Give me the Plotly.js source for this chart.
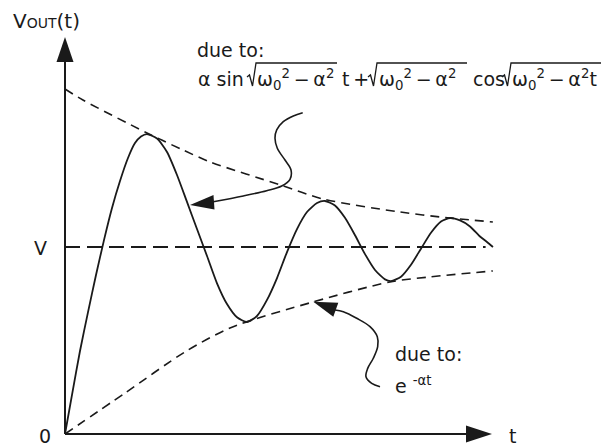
<!DOCTYPE html>
<html>
<head>
<meta charset="utf-8">
<script src="https://cdn.plot.ly/plotly-3.0.1.min.js"></script>
<style>
  html, body { margin: 0; padding: 0; background: #fff; }
  #chart { width: 603px; height: 446px; }
</style>
</head>
<body>
<div id="chart"></div>
<script>
// Underdamped step response of a second-order circuit, normalised so the final value V = 1.
const vFinal = 1;
const tEnd = 10;

// Oscillating output voltage
const t = [0, 0.164, 0.351, 0.539, 0.726, 0.913, 1.101, 1.288, 1.475, 1.639, 1.780, 1.920,
           2.155, 2.389, 2.623, 2.857, 3.091, 3.326, 3.560, 3.794, 4.028, 4.262,
           4.496, 4.731, 4.965, 5.199, 5.433, 5.667, 5.902, 6.089,
           6.323, 6.557, 6.792, 7.026, 7.260, 7.494, 7.635,
           7.869, 8.103, 8.337, 8.571, 8.806, 9.016,
           9.251, 9.485, 9.719, 9.883, 10.023];
const vOut = [0, 0.209, 0.444, 0.652, 0.850, 1.037, 1.209, 1.353, 1.476, 1.556, 1.591, 1.604,
              1.580, 1.508, 1.385, 1.241, 1.096, 0.952, 0.806, 0.695, 0.624, 0.599,
              0.631, 0.717, 0.834, 0.973, 1.096, 1.187, 1.235, 1.246,
              1.222, 1.156, 1.063, 0.962, 0.877, 0.827, 0.818,
              0.841, 0.905, 0.991, 1.076, 1.136, 1.155,
              1.142, 1.110, 1.056, 1.027, 1.000];

// Decaying envelopes (upper and lower)
const envTopT = [0, 0.42, 1.92, 2.76, 3.40, 5.04, 6.04, 7.85, 9.02, 10.02];
const envTop  = [1.845, 1.786, 1.610, 1.519, 1.455, 1.332, 1.257, 1.187, 1.155, 1.134];
const envBotT = [0, 1.405, 2.810, 3.864, 5.808, 7.611, 8.548, 10.02];
const envBot  = [0, 0.219, 0.439, 0.567, 0.706, 0.813, 0.840, 0.872];

// Callout connectors, from each label to the curve it describes
const calloutTopT = [5.567, 5.347, 5.112, 4.958, 4.918, 4.972, 5.152, 5.293, 5.269, 5.075, 4.724, 4.176, 3.473];
const calloutTopV = [1.718, 1.701, 1.670, 1.626, 1.581, 1.528, 1.465, 1.412, 1.362, 1.326, 1.301, 1.273, 1.242];
const calloutBotT = [6.323, 6.518, 6.831, 7.143, 7.314, 7.323, 7.220, 7.089, 7.049, 7.183, 7.377];
const calloutBotV = [0.663, 0.654, 0.619, 0.574, 0.520, 0.467, 0.405, 0.351, 0.306, 0.271, 0.253];

// Pixel geometry of the drawing
const W = 603, H = 446;
const OX = 65, OY = 434;         // origin
const PX_T = 42.7, PX_V = 187;   // pixels per unit
const X = px => (px - OX) / PX_T;
const Y = py => (OY - py) / PX_V;

const ink = '#1a1a1a';
const font = { family: '"DejaVu Sans", Arial, sans-serif', size: 19, color: ink };

const traces = [
  { x: [0, tEnd * 0.985], y: [vFinal, vFinal], mode: 'lines',
    line: { color: ink, width: 1.8, dash: '15px,7px' } },
  { x: envTopT, y: envTop, mode: 'lines', line: { color: ink, width: 1.6, dash: '9px,6px', shape: 'spline', smoothing: 0.8 } },
  { x: envBotT, y: envBot, mode: 'lines', line: { color: ink, width: 1.6, dash: '9px,6px', shape: 'spline', smoothing: 0.8 } },
  { x: t, y: vOut, mode: 'lines', line: { color: ink, width: 1.8, shape: 'spline', smoothing: 0.6 } },
  { x: calloutTopT, y: calloutTopV, mode: 'lines', line: { color: ink, width: 1.6, shape: 'spline', smoothing: 1 } },
  { x: calloutBotT, y: calloutBotV, mode: 'lines', line: { color: ink, width: 1.6, shape: 'spline', smoothing: 1 } }
];

function tri(p) {
  return 'M' + p.map(q => X(q[0]) + ',' + Y(q[1])).join('L') + 'Z';
}
function radical(a, b, top, base) {
  const pts = [[a, base - 9], [a + 2.5, base - 11], [a + 5.5, base], [a + 9, top], [b, top]];
  return 'M' + pts.map(q => X(q[0]) + ',' + Y(q[1])).join('L');
}

const shapes = [
  // axes
  { type: 'line', x0: 0, y0: 0, x1: 0, y1: Y(60), line: { color: ink, width: 2 } },
  { type: 'line', x0: 0, y0: 0, x1: X(468), y1: 0, line: { color: ink, width: 2 } },
  { type: 'path', path: tri([[65, 37], [56.5, 62], [73.5, 62]]), fillcolor: ink, line: { width: 0 } },
  { type: 'path', path: tri([[492, 434], [466, 425.5], [466, 442.5]]), fillcolor: ink, line: { width: 0 } },
  // callout arrowheads
  { type: 'path', path: tri([[190, 205], [213.5, 195], [214.5, 209.5]]), fillcolor: ink, line: { width: 0 } },
  { type: 'path', path: tri([[313.3, 301.7], [338.3, 302.7], [333.3, 316.7]]), fillcolor: ink, line: { width: 0 } },
  // radical signs of the formula
  { type: 'path', path: radical(247, 337, 63, 86), line: { color: ink, width: 1.3 } },
  { type: 'path', path: radical(368, 467, 63, 86), line: { color: ink, width: 1.3 } },
  { type: 'path', path: radical(502, 601, 63, 86), line: { color: ink, width: 1.3 } }
];

function label(text, px, py, anchor, size) {
  return { text: text, x: X(px), y: Y(py), xref: 'x', yref: 'y', xanchor: anchor || 'left',
           yanchor: 'middle', showarrow: false, font: Object.assign({}, font, size ? { size: size } : {}) };
}
const wq = 'ω<sub>0</sub><sup>2</sup>\u2009−\u2009α<sup>2</sup>';

const annotations = [
  label('V<span style="font-size:14px">OUT</span>(t)', 11, 21, 'left', 20),
  label('0', 53, 436, 'right'),
  label('V', 40, 248, 'center'),
  label('t', 512, 436, 'center'),
  label('due to:', 195, 50),
  label('α sin', 196, 79),
  label(wq, 255, 79),
  label('t\u2009+', 340, 79),
  label(wq, 377, 79),
  label('cos', 471, 79),
  label(wq + 't', 510, 79),
  label('due to:', 393, 354),
  label('e <sup>-αt</sup>', 393, 385)
];

const layout = {
  width: W, height: H,
  margin: { l: 0, r: 0, t: 0, b: 0 },
  paper_bgcolor: '#fff', plot_bgcolor: '#fff',
  showlegend: false,
  xaxis: { range: [X(0), X(W)], visible: false, fixedrange: true },
  yaxis: { range: [Y(H), Y(0)], visible: false, fixedrange: true },
  shapes: shapes,
  annotations: annotations
};

Plotly.newPlot('chart', traces, layout, { staticPlot: true, displayModeBar: false });
</script>
</body>
</html>
